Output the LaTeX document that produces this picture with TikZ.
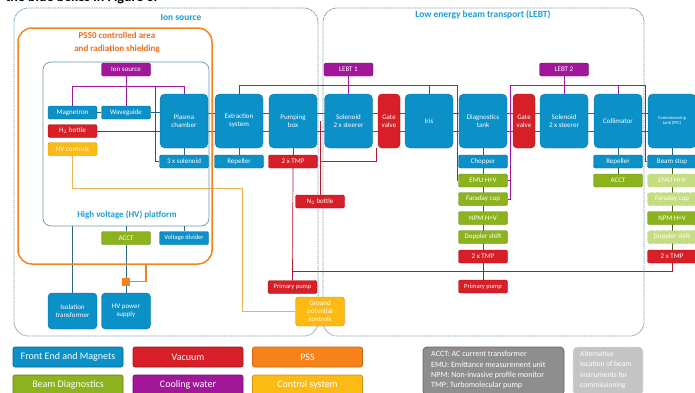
\documentclass[tikz,border=0pt]{standalone}
\usepackage{fontspec}
\setmainfont{Carlito}
\usetikzlibrary{backgrounds}
\definecolor{feblue}{HTML}{0B90C8}
\definecolor{vacred}{HTML}{D81E26}
\definecolor{vacdark}{HTML}{B01A2C}
\definecolor{pssorange}{HTML}{F8821A}
\definecolor{diaggreen}{HTML}{8CB31D}
\definecolor{altgreen}{HTML}{C6DC82}
\definecolor{cwpurple}{HTML}{A2169A}
\definecolor{ctrlyellow}{HTML}{FDBA12}
\definecolor{ctrlline}{HTML}{EBB25A}
\definecolor{areablue}{HTML}{6A95A8}
\definecolor{lnkblue}{HTML}{2C6580}
\definecolor{titleblue}{HTML}{1E9BD7}
\definecolor{titleorange}{HTML}{EE6A1F}
\definecolor{greybox}{HTML}{8E8E8E}
\definecolor{altgrey}{HTML}{C4C4C4}
\newcommand\bx{\fontsize{7}{8}\selectfont}

\begin{document}
\begin{tikzpicture}[x=1pt,y=-1pt,
  box/.style={rectangle, rounded corners=1.5pt, text=white, font=\bx, inner sep=0pt,
    minimum width=49pt, minimum height=13pt, align=center, line width=0.4pt},
  fe/.style={box, fill=feblue, draw=feblue!75!black},
  bl/.style={fe, minimum width=48pt, minimum height=54pt, rounded corners=5pt},
  vac/.style={box, fill=vacred, draw=vacred!75!black},
  dg/.style={box, fill=diaggreen, draw=diaggreen!75!black},
  altdg/.style={box, fill=altgreen, draw=diaggreen!70, dashed},
  cw/.style={box, fill=cwpurple, draw=cwpurple!75!black},
  ctrl/.style={box, fill=ctrlyellow, draw=ctrlyellow!80!black},
  area/.style={draw=areablue, rounded corners=14pt, line width=0.8pt, dash pattern=on 1pt off 0.7pt},
  title/.style={font=\fontsize{9.5}{12}\selectfont\bfseries, text=titleblue, align=center},
  legend/.style={rectangle, rounded corners=2pt, text=white, minimum width=110pt, minimum height=20pt,
    inner sep=0pt, font=\fontsize{10}{12}\selectfont, line width=0.6pt},
  lnk/.style={draw=lnkblue, line width=0.7pt},
  vacln/.style={draw=vacdark, line width=0.7pt},
  cwln/.style={draw=cwpurple, line width=0.7pt},
  ctln/.style={draw=ctrlline, line width=0.7pt},
  dgln/.style={draw=diaggreen!55!black, line width=0.7pt},
  pssln/.style={draw=pssorange, line width=1.4pt}]
\useasboundingbox (0,0) rectangle (695,392);
\clip (0,0) rectangle (695,392);
\node[anchor=base west, font=\fontsize{14}{14}\selectfont\bfseries] (head) at (2,1.5) {the blue boxes in Figure 3.};

% areas
\node[area, minimum width=304pt, minimum height=328pt] (ISA) at (166,172) {};
\node[area, minimum width=321pt, minimum height=328pt] (LA) at (483.5,172) {};
\node[draw=pssorange, line width=1.5pt, rounded corners=14pt, minimum width=194pt, minimum height=236pt] (PSS) at (115,146) {};
\node[draw=areablue, line width=0.7pt, rounded corners=8pt, minimum width=166pt, minimum height=164pt] (HVP) at (126,144) {};
\node[title] (tIS) at (181,17) {Ion source};
\node[title] (tLA) at (483,15) {Low energy beam transport (LEBT)};
\node[title, text=titleorange, font=\fontsize{9}{13}\selectfont\bfseries] (tPSS) at (117,43) {PSS0 controlled area\\and radiation shielding};
\node[title, font=\fontsize{9}{12}\selectfont\bfseries] (tHVP) at (127,215) {High voltage (HV) platform};

% ion source
\node[cw] (IS) at (126,69.5) {Ion source};
\node[fe] (MAG) at (72.5,112.5) {Magnetron};
\node[fe] (WG) at (126,112.5) {Waveguide};
\node[vac] (H2) at (72.5,131) {H$_2$ bottle};
\node[ctrl] (HVC) at (72.5,149) {HV controls};
\node[bl] (PC) at (184,121) {Plasma\\chamber};
\node[fe] (SOL) at (184,161.5) {3 x solenoid};
\node[dg] (ACCT) at (126,238) {ACCT};
\node[fe, font=\fontsize{6.5}{7.5}\selectfont] (VD) at (184,238) {Voltage divider};
\node[fe, minimum height=36pt, rounded corners=4pt] (IT) at (72.5,311) {Isolation\\transformer};
\node[fe, minimum height=36pt, rounded corners=4pt] (PS) at (126,311) {HV power\\supply};
\node[fill=pssorange, minimum size=8pt, inner sep=0pt] (SQ) at (126,281.5) {};
\node[bl] (EX) at (239,121) {Extraction\\system};
\node[fe] (REP1) at (239,161.5) {Repeller};
\node[bl] (PB) at (293,121) {Pumping\\box};
\node[vac] (TMP1) at (293,161.5) {2 x TMP};
\node[vac] (N2) at (320,201.5) {N$_2$ bottle};
\node[vac, font=\fontsize{6.5}{7.5}\selectfont] (PP1) at (292.5,287) {Primary pump};
\node[ctrl, minimum height=29pt, rounded corners=3pt] (GPC) at (320,311.5) {Ground\\potential\\controls};

% LEBT
\node[cw] (L1) at (348.5,69.5) {LEBT 1};
\node[cw] (L2) at (564,69.5) {LEBT 2};
\node[bl] (S1) at (348.5,121) {Solenoid\\2 x steerer};
\node[vac, minimum width=22pt, minimum height=54pt, rounded corners=4pt] (GV1) at (389,121) {Gate\\valve};
\node[bl] (IR) at (429,121) {Iris};
\node[bl] (DT) at (483,121) {Diagnostics\\tank};
\node[vac, minimum width=22pt, minimum height=54pt, rounded corners=4pt] (GV2) at (524,121) {Gate\\valve};
\node[bl] (S2) at (564,121) {Solenoid\\2 x steerer};
\node[bl] (CO) at (618,121) {Collimator};
\node[bl, font=\fontsize{4.5}{5.5}\selectfont] (CT) at (672,121) {Commissioning\\tank (FFC)};
\node[fe] (CH) at (483,161.5) {Chopper};
\node[dg] (EMU1) at (483,180.5) {EMU H+V};
\node[dg] (FC1) at (483,199) {Faraday cup};
\node[dg] (NPM1) at (483,218) {NPM H+V};
\node[dg] (DS1) at (483,237) {Doppler shift};
\node[vac] (TMP2) at (483,256.5) {2 x TMP};
\node[vac, font=\fontsize{6.5}{7.5}\selectfont] (PP2) at (483,286.5) {Primary pump};
\node[fe] (REP2) at (618,161.5) {Repeller};
\node[dg] (ACCT2) at (618,180.5) {ACCT};
\node[fe] (BS) at (672,161.5) {Beam stop};
\node[altdg] (EMU2) at (672,180.5) {EMU H+V};
\node[altdg] (FC2) at (672,199) {Faraday cup};
\node[dg] (NPM2) at (672,218) {NPM H+V};
\node[altdg] (DS2) at (672,237) {Doppler shift};
\node[vac] (TMP3) at (672,256.5) {2 x TMP};

% legend
\node[legend, fill=feblue, draw=feblue!70!black] (kFE) at (68,357) {Front End and Magnets};
\node[legend, fill=vacred, draw=vacred!70!black] (kVAC) at (188,357) {Vacuum};
\node[legend, fill=pssorange, draw=pssorange!80!black] (kPSS) at (307.5,357) {PSS};
\node[legend, fill=diaggreen, draw=diaggreen!70!black] (kDG) at (68,385) {Beam Diagnostics};
\node[legend, fill=cwpurple, draw=cwpurple!70!black] (kCW) at (188,385) {Cooling water};
\node[legend, fill=ctrlyellow, draw=ctrlyellow!80!black] (kCS) at (307.5,385) {Control system};
\node[rectangle, rounded corners=4pt, fill=greybox, draw=greybox!70!black, line width=0.8pt, text=white,
  minimum width=141pt, minimum height=48pt, inner sep=0pt] (kABB) at (493.5,371) {};
\node[anchor=north west, text=white, align=left, inner sep=0pt, font=\fontsize{8}{10.4}\selectfont] (kABBt) at (431,351)
  {ACCT: AC current transformer\\EMU: Emittance measurement unit\\NPM: Non-invasive profile monitor\\TMP: Turbomolecular pump};
\node[rectangle, rounded corners=4pt, fill=altgrey, draw=white!60!altgrey, dashed, line width=0.8pt,
  minimum width=70pt, minimum height=48pt, inner sep=0pt] (kALT) at (608,371) {};
\node[anchor=north west, text=white, align=left, inner sep=0pt, font=\fontsize{7.5}{10.4}\selectfont] (kALTt) at (580,351)
  {Alternative\\location of beam\\instruments for\\commissioning};

\begin{scope}[on background layer]
\coordinate (bt) at (0,113);
\coordinate (bb) at (0,131);
\coordinate (busA) at (155,86);
\coordinate (busB) at (457,85);
\coordinate (busC) at (510,85);
\coordinate (busD) at (645.5,85);
\coordinate (vent) at (320,121);
\coordinate (vj) at (0,271);
\coordinate (cA) at (242,188);
\coordinate (pssgate) at (146,264);
% beam line
\draw[lnk] (MAG) -- (WG) -- (PC.west |- WG);
\draw[lnk] (PC.east |- bt) -- (CT.west |- bt);
\draw[lnk] (PC.east |- bb) -- (CT.west |- bb);
\draw[lnk] (PC.south) -- (SOL.north);
\draw[lnk] (EX.south) -- (REP1.north);
\draw[lnk] (PB.south) -- (TMP1.north);
\draw[lnk] (DT.south) -- (CH.north);
\draw[dgln] (CH.south) -- (TMP2.north);
\draw[lnk] (CO.south) -- (REP2.north);
\draw[dgln] (REP2.south) -- (ACCT2.north);
\draw[lnk] (CT.south) -- (BS.north);
\draw[dgln] (BS.south) -- (TMP3.north);
% platform
\draw[lnk] (IT.north) -- (IT.north |- HVP.south);
\draw[lnk] (PS.north) -- (ACCT.south);
\draw[lnk] (ACCT.north) -- (ACCT.north |- HVP.south);
\draw[lnk] (VD.north) -- (VD.north |- HVP.south);
\draw[pssln] (SQ.east) -| (pssgate);
% vacuum
\draw[vacln] (H2.east) -- (PC.west |- H2);
\draw[vacln] (vent) -- (N2.north);
\draw[vacln] ([xshift=-1pt]GV1.south west) |- (N2.north |- TMP1);
\draw[vacln] (TMP1.south) -- (PP1.north);
\draw[vacln] (TMP1.south |- vj) -| (TMP3.south);
\draw[vacln] (TMP2.south) -- (PP2.north);
% cooling water
\draw[cwln] (IS.south) -- (WG.north);
\draw[cwln] (MAG.north) |- (PC.north |- busA) -- (PC.north);
\draw[cwln] (busA) |- (SOL.west);
\draw[cwln] (EX.north) |- (busB) |- (EMU1.west);
\draw[cwln] (CH.west) -- (CH.west -| busB);
\draw[cwln] (L1.south) -- (S1.north);
\draw[cwln] (IR.north) -- (IR.north |- busB);
\draw[cwln] (FC1.east) -| (busC) -- (busD) |- (BS.west);
\draw[cwln] (EMU1.east) -- (EMU1.east -| busC);
\draw[cwln] (L2.south) -- (S2.north);
\draw[cwln] (CO.north) -- (CO.north |- busC);
% controls
\draw[ctln] (HVC.south) |- (cA) |- (GPC.west);
\end{scope}
\end{tikzpicture}
\end{document}
